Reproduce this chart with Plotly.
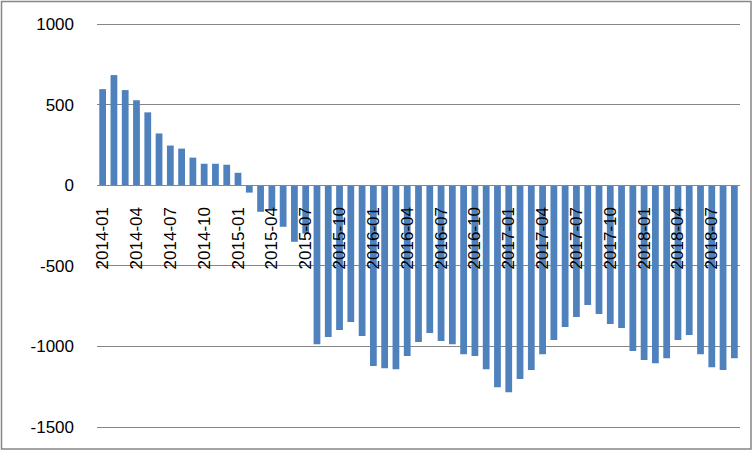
import plotly.graph_objects as go

months = [
    "2014-01", "2014-02", "2014-03", "2014-04", "2014-05", "2014-06", "2014-07", "2014-08", "2014-09", "2014-10", "2014-11", "2014-12",
    "2015-01", "2015-02", "2015-03", "2015-04", "2015-05", "2015-06", "2015-07", "2015-08", "2015-09", "2015-10", "2015-11", "2015-12",
    "2016-01", "2016-02", "2016-03", "2016-04", "2016-05", "2016-06", "2016-07", "2016-08", "2016-09", "2016-10", "2016-11", "2016-12",
    "2017-01", "2017-02", "2017-03", "2017-04", "2017-05", "2017-06", "2017-07", "2017-08", "2017-09", "2017-10", "2017-11", "2017-12",
    "2018-01", "2018-02", "2018-03", "2018-04", "2018-05", "2018-06", "2018-07", "2018-08", "2018-09",
]

values = [
    596, 683, 590, 527, 452, 321, 246, 227, 171, 133, 133, 127,
    77, -46, -165, -150, -258, -351, -300, -986, -942, -899, -849, -936,
    -1122, -1135, -1141, -1060, -973, -917, -967, -986, -1048, -1060, -1141, -1253,
    -1284, -1203, -1147, -1048, -961, -880, -817, -743, -799, -861, -886, -1029,
    -1085, -1104, -1073, -961, -930, -1048, -1129, -1147, -1073,
]

x_tick_labels = months[::3]
y_ticks = [-1500, -1000, -500, 0, 500, 1000]
y_tick_labels = ["-1500", "-1000", "-500", "0", "500", "1000"]

# small padding so that the 1000 and -1500 gridlines are drawn
y_min, y_max = -1512.4, 1012.4
T, B, L, R = 22, 22, 97, 13
H, W = 451, 753
ph = H - T - B
pw = W - L - R

fig = go.Figure()
fig.add_trace(go.Bar(x=months, y=values, marker=dict(color="#4F81BD", line=dict(width=0))))

fig.update_layout(
    width=W, height=H,
    margin=dict(l=L, r=R, t=T, b=B),
    paper_bgcolor="white", plot_bgcolor="white",
    bargap=0.4,
    showlegend=False,
    font=dict(family="Liberation Sans", size=17, color="black"),
    xaxis=dict(
        type="category",
        anchor="free", position=(0 - y_min) / (y_max - y_min),
        tickmode="array", tickvals=x_tick_labels, ticktext=x_tick_labels,
        tickangle=-90, ticks="", ticklabelstandoff=14,
        showline=True, linecolor="#868686", linewidth=1,
        showgrid=False, zeroline=False,
    ),
    yaxis=dict(
        range=[y_min, y_max],
        tickmode="array", tickvals=y_ticks, ticktext=y_tick_labels,
        ticks="", ticklabelstandoff=22,
        showgrid=True, gridcolor="#868686", gridwidth=1,
        zeroline=False, showline=False,
    ),
    shapes=[dict(
        type="rect", xref="paper", yref="paper",
        x0=(1.5 - L) / pw, x1=(751 - L) / pw,
        y0=((H - B) - 449) / ph, y1=((H - B) - 1.5) / ph,
        line=dict(color="#868686", width=1.5), fillcolor="rgba(0,0,0,0)",
        layer="below",
    )],
)

fig.write_html(
    "out.html",
    config={"displayModeBar": False},
    post_script="document.body.style.margin='0';document.body.style.padding='0';document.body.style.overflow='hidden';",
)
